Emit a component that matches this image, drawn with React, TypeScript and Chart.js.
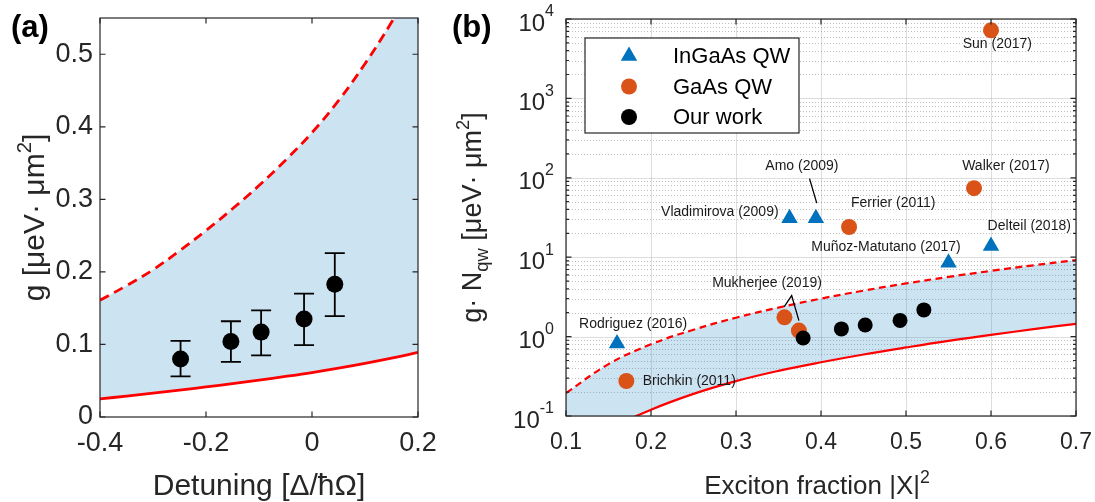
import React, { useEffect, useRef } from 'react';
import { Chart, registerables } from 'chart.js';

Chart.register(...registerables);

const FONT = '"Liberation Sans", Arial, Helvetica, sans-serif';
const INK = '#262626';
const RED = '#ff0000';
const SHADE = 'rgba(0, 114, 189, 0.2)';
const BLUE = '#0072bd';
const ORANGE = '#d95319';

// ---------------- Panel (a) data ----------------
const detuningGrid = [-0.4, -0.35, -0.3, -0.25, -0.2, -0.15, -0.1, -0.05, 0, 0.05, 0.1, 0.15, 0.2];
const gLowerA = [0.025, 0.0288, 0.0328, 0.037, 0.0414, 0.046, 0.0508, 0.0559, 0.0613, 0.0673, 0.0739, 0.0811, 0.089];
const gUpperA = [0.161, 0.181, 0.203, 0.229, 0.257, 0.287, 0.319, 0.354, 0.392, 0.436, 0.487, 0.544, 0.607];
const detuningPts = [-0.248, -0.153, -0.096, -0.015, 0.043];
const gPts = [0.08, 0.104, 0.117, 0.135, 0.183];
const gErrLo = [0.056, 0.076, 0.085, 0.099, 0.139];
const gErrHi = [0.105, 0.132, 0.147, 0.17, 0.226];
const xTicksA = [-0.4, -0.2, 0, 0.2];
const yTicksA = [0, 0.1, 0.2, 0.3, 0.4, 0.5];

// ---------------- Panel (b) data ----------------
const fractionGrid = [0.1, 0.15, 0.2, 0.25, 0.3, 0.35, 0.4, 0.45, 0.5, 0.55, 0.6, 0.65, 0.7];
const gnLowerB = [0.032, 0.068, 0.12, 0.19, 0.275, 0.37, 0.475, 0.595, 0.73, 0.885, 1.05, 1.24, 1.45];
const gnUpperB = [0.194, 0.45, 0.8, 1.22, 1.73, 2.32, 3.01, 3.79, 4.67, 5.65, 6.73, 7.91, 9.18];
const ingaasX = [0.16, 0.363, 0.394, 0.55, 0.6];
const ingaasY = [0.82, 31, 31, 8.5, 13.8];
const gaasX = [0.171, 0.357, 0.374, 0.433, 0.58, 0.6];
const gaasY = [0.276, 1.75, 1.19, 24, 74, 7200];
const ourX = [0.379, 0.424, 0.452, 0.493, 0.521];
const ourY = [0.96, 1.25, 1.4, 1.6, 2.17];
const xTicksB = [0.1, 0.2, 0.3, 0.4, 0.5, 0.6, 0.7];
const yTicksB = [0.1, 1, 10, 100, 1000, 10000];
const annotText = ['Sun (2017)', 'Walker (2017)', 'Amo (2009)', 'Ferrier (2011)', 'Vladimirova (2009)', 'Delteil (2018)', 'Muñoz-Matutano (2017)', 'Mukherjee (2019)', 'Rodriguez (2016)', 'Brichkin (2011)'];
const annotX = [0.6075, 0.6175, 0.3775, 0.485, 0.281, 0.645, 0.4765, 0.3365, 0.179, 0.245];
const annotY = [4770, 140, 140, 48.5, 37.4, 24.6, 13.4, 4.75, 1.42, 0.273];
const amoLeaderX = [0.3865, 0.395];
const amoLeaderY = [97.5, 48];
const mukLeaderX = [0.3568, 0.3655, 0.374];
const mukLeaderY = [2.39, 3.29, 1.59];

type Part = { t: string; k?: 'sup' | 'sub' };

function drawRich(ctx: CanvasRenderingContext2D, parts: Part[], cx: number, cy: number, size: number, rotate: boolean) {
  ctx.save();
  ctx.translate(cx, cy);
  if (rotate) ctx.rotate(-Math.PI / 2);
  const small = size * 0.68;
  const widths = parts.map((p) => {
    ctx.font = `${p.k ? small : size}px ${FONT}`;
    return ctx.measureText(p.t).width;
  });
  const total = widths.reduce((a, b) => a + b, 0);
  let x = -total / 2;
  ctx.textBaseline = 'alphabetic';
  ctx.textAlign = 'left';
  ctx.fillStyle = INK;
  const base = size * 0.36;
  parts.forEach((p, i) => {
    ctx.font = `${p.k ? small : size}px ${FONT}`;
    const dy = p.k === 'sup' ? -size * 0.42 : p.k === 'sub' ? size * 0.28 : 0;
    ctx.fillText(p.t, x, base + dy);
    x += widths[i];
  });
  ctx.restore();
}

function drawFrame(chart: any, yMinor: boolean) {
  const { ctx, chartArea: a, scales } = chart;
  const xs = scales.x;
  const ys = scales.y;
  ctx.save();
  ctx.strokeStyle = INK;
  ctx.lineWidth = 1.2;
  ctx.beginPath();
  const L = 5.5;
  for (const t of xs.ticks) {
    const px = xs.getPixelForValue(t.value);
    ctx.moveTo(px, a.bottom);
    ctx.lineTo(px, a.bottom - L);
    ctx.moveTo(px, a.top);
    ctx.lineTo(px, a.top + L);
  }
  for (const t of ys.ticks) {
    const py = ys.getPixelForValue(t.value);
    ctx.moveTo(a.left, py);
    ctx.lineTo(a.left + L, py);
    ctx.moveTo(a.right, py);
    ctx.lineTo(a.right - L, py);
  }
  if (yMinor) {
    for (let i = 0; i < ys.ticks.length - 1; i++) {
      const d = ys.ticks[i].value;
      for (let k = 2; k <= 9; k++) {
        const py = ys.getPixelForValue(k * d);
        ctx.moveTo(a.left, py);
        ctx.lineTo(a.left + 3, py);
        ctx.moveTo(a.right, py);
        ctx.lineTo(a.right - 3, py);
      }
    }
  }
  ctx.stroke();
  ctx.strokeRect(a.left, a.top, a.right - a.left, a.bottom - a.top);
  ctx.restore();
}

const fmt = (v: any) => String(Math.round(Number(v) * 10) / 10);

const panelAPlugin = {
  id: 'panelA',
  afterDatasetsDraw(chart: any) {
    const { ctx, scales } = chart;
    const xs = scales.x;
    const ys = scales.y;
    ctx.save();
    ctx.strokeStyle = '#000';
    ctx.lineWidth = 1.8;
    ctx.beginPath();
    detuningPts.forEach((x, i) => {
      const px = xs.getPixelForValue(x);
      const lo = ys.getPixelForValue(gErrLo[i]);
      const hi = ys.getPixelForValue(gErrHi[i]);
      ctx.moveTo(px, lo);
      ctx.lineTo(px, hi);
      ctx.moveTo(px - 10, lo);
      ctx.lineTo(px + 10, lo);
      ctx.moveTo(px - 10, hi);
      ctx.lineTo(px + 10, hi);
    });
    ctx.stroke();
    ctx.restore();
    drawFrame(chart, false);
  },
  afterDraw(chart: any) {
    const { ctx, chartArea: a } = chart;
    drawRich(ctx, [{ t: 'g [μeV· μm' }, { t: '2', k: 'sup' }, { t: ']' }], a.left - 67, (a.top + a.bottom) / 2, 30, true);
    drawRich(ctx, [{ t: 'Detuning [Δ/ħΩ]' }], (a.left + a.right) / 2, 484, 30, false);
    ctx.save();
    ctx.font = `bold 31px ${FONT}`;
    ctx.fillStyle = '#000';
    ctx.textBaseline = 'middle';
    ctx.textAlign = 'left';
    ctx.fillText('(a)', 11, 28);
    ctx.restore();
  },
};

const panelBPlugin = {
  id: 'panelB',
  beforeDraw(chart: any) {
    const { ctx, chartArea: a, scales } = chart;
    const xs = scales.x;
    const ys = scales.y;
    ctx.save();
    ctx.strokeStyle = 'rgba(0,0,0,0.25)';
    ctx.lineWidth = 1;
    ctx.setLineDash([1, 2]);
    ctx.beginPath();
    for (let i = 0; i < yTicksB.length - 1; i++) {
      for (let k = 2; k <= 9; k++) {
        const py = Math.round(ys.getPixelForValue(k * yTicksB[i])) + 0.5;
        ctx.moveTo(a.left, py);
        ctx.lineTo(a.right, py);
      }
    }
    ctx.stroke();
    ctx.setLineDash([]);
    ctx.strokeStyle = 'rgba(0,0,0,0.13)';
    ctx.beginPath();
    for (const v of yTicksB) {
      const py = Math.round(ys.getPixelForValue(v)) + 0.5;
      ctx.moveTo(a.left, py);
      ctx.lineTo(a.right, py);
    }
    for (const v of xTicksB) {
      const px = Math.round(xs.getPixelForValue(v)) + 0.5;
      ctx.moveTo(px, a.top);
      ctx.lineTo(px, a.bottom);
    }
    ctx.stroke();
    ctx.restore();
  },
  afterDatasetsDraw(chart: any) {
    const { ctx, scales } = chart;
    const xs = scales.x;
    const ys = scales.y;
    ctx.save();
    ctx.fillStyle = '#1a1a1a';
    ctx.font = `14px ${FONT}`;
    ctx.textAlign = 'center';
    ctx.textBaseline = 'middle';
    annotText.forEach((t, i) => {
      ctx.fillText(t, xs.getPixelForValue(annotX[i]), ys.getPixelForValue(annotY[i]));
    });
    ctx.strokeStyle = '#000';
    ctx.lineWidth = 1.3;
    const poly = (X: number[], Y: number[]) => {
      ctx.beginPath();
      X.forEach((x, i) => {
        const px = xs.getPixelForValue(x);
        const py = ys.getPixelForValue(Y[i]);
        if (i === 0) ctx.moveTo(px, py);
        else ctx.lineTo(px, py);
      });
      ctx.stroke();
    };
    poly(amoLeaderX, amoLeaderY);
    poly(mukLeaderX, mukLeaderY);
    ctx.restore();
    drawFrame(chart, true);
  },
  afterDraw(chart: any) {
    const { ctx, chartArea: a, scales } = chart;
    const ys = scales.y;
    ctx.save();
    ctx.fillStyle = INK;
    ctx.textBaseline = 'middle';
    ctx.textAlign = 'left';
    for (const v of yTicksB) {
      const e = String(Math.round(Math.log10(v)));
      const py = ys.getPixelForValue(v);
      ctx.font = `16px ${FONT}`;
      const we = ctx.measureText(e).width;
      ctx.font = `24px ${FONT}`;
      const wb = ctx.measureText('10').width;
      const right = a.left - 12;
      ctx.fillText('10', right - we - wb, py + 5);
      ctx.font = `16px ${FONT}`;
      ctx.fillText(e, right - we, py - 7);
    }
    ctx.restore();

    const lx = a.left + 19;
    const ly = a.top + 19;
    const lw = 214;
    const lh = 95;
    ctx.save();
    ctx.fillStyle = '#fff';
    ctx.fillRect(lx, ly, lw, lh);
    ctx.strokeStyle = INK;
    ctx.lineWidth = 1.2;
    ctx.strokeRect(lx, ly, lw, lh);
    const items = chart.data.datasets.filter((d: any) => d.showLine === false);
    items.forEach((d: any, i: number) => {
      const cy = ly + 18 + i * 30.5;
      const cx = lx + 44;
      ctx.fillStyle = d.pointBackgroundColor;
      ctx.beginPath();
      if (d.pointStyle === 'triangle') {
        const r = d.pointRadius;
        let rad = 0;
        for (let k = 0; k < 3; k++) {
          const px = cx + Math.sin(rad) * r;
          const py = cy - Math.cos(rad) * r;
          if (k === 0) ctx.moveTo(px, py);
          else ctx.lineTo(px, py);
          rad += (2 * Math.PI) / 3;
        }
        ctx.closePath();
      } else {
        ctx.arc(cx, cy, 8, 0, Math.PI * 2);
      }
      ctx.fill();
      ctx.fillStyle = '#000';
      ctx.font = `22px ${FONT}`;
      ctx.textBaseline = 'middle';
      ctx.textAlign = 'left';
      ctx.fillText(d.label, lx + 88, cy + 1);
    });
    ctx.restore();

    drawRich(ctx, [{ t: 'g· N' }, { t: 'qw', k: 'sub' }, { t: ' [μeV· μm' }, { t: '2', k: 'sup' }, { t: ']' }], a.left - 95, (a.top + a.bottom) / 2, 27, true);
    drawRich(ctx, [{ t: 'Exciton fraction |X|' }, { t: '2', k: 'sup' }], (a.left + a.right) / 2 - 4, 485, 26, false);
    ctx.save();
    ctx.font = `bold 31px ${FONT}`;
    ctx.fillStyle = '#000';
    ctx.textBaseline = 'middle';
    ctx.textAlign = 'left';
    ctx.fillText('(b)', 22, 28);
    ctx.restore();
  },
};

export default function App() {
  const refA = useRef<HTMLCanvasElement>(null);
  const refB = useRef<HTMLCanvasElement>(null);

  useEffect(() => {
    const chartA = new Chart(refA.current as HTMLCanvasElement, {
      type: 'line',
      data: {
        datasets: [
          {
            label: 'upper',
            data: detuningGrid.map((x, i) => ({ x, y: gUpperA[i] })),
            borderColor: RED,
            borderWidth: 2.8,
            borderDash: [10, 6],
            pointRadius: 0,
            fill: '+1',
            backgroundColor: SHADE,
            tension: 0.4,
            capBezierPoints: false,
            order: 2,
            clip: 0,
          },
          {
            label: 'lower',
            data: detuningGrid.map((x, i) => ({ x, y: gLowerA[i] })),
            borderColor: RED,
            borderWidth: 2.8,
            pointRadius: 0,
            fill: false,
            tension: 0.4,
            capBezierPoints: false,
            order: 1,
            clip: 0,
          },
          {
            label: 'data',
            data: detuningPts.map((x, i) => ({ x, y: gPts[i] })),
            showLine: false,
            pointRadius: 8.5,
            pointBorderWidth: 0,
            pointBackgroundColor: '#000',
            pointBorderColor: '#000',
            order: 0,
          },
        ],
      } as any,
      options: {
        animation: false,
        responsive: false,
        maintainAspectRatio: false,
        events: [],
        layout: { padding: { left: 0, top: 18, right: 42, bottom: 0 } },
        plugins: {
          legend: { display: false },
          tooltip: { enabled: false },
          filler: { drawTime: 'beforeDatasetsDraw' },
        } as any,
        scales: {
          x: {
            type: 'linear',
            min: -0.4,
            max: 0.2,
            grid: { display: false, drawTicks: false },
            border: { display: false },
            afterBuildTicks: (s: any) => {
              s.ticks = xTicksA.map((value) => ({ value }));
            },
            afterFit: (s: any) => {
              s.height = 85;
              s.paddingLeft = 0;
              s.paddingRight = 0;
            },
            ticks: {
              font: { family: FONT, size: 27 },
              color: INK,
              padding: 10,
              autoSkip: false,
              maxRotation: 0,
              callback: fmt,
            },
          },
          y: {
            type: 'linear',
            min: 0,
            max: 0.55,
            grid: { display: false, drawTicks: false },
            border: { display: false },
            afterBuildTicks: (s: any) => {
              s.ticks = yTicksA.map((value) => ({ value }));
            },
            afterFit: (s: any) => {
              s.width = 100;
              s.paddingTop = 0;
              s.paddingBottom = 0;
            },
            ticks: {
              font: { family: FONT, size: 27 },
              color: INK,
              padding: 7,
              autoSkip: false,
              callback: fmt,
            },
          },
        } as any,
      },
      plugins: [panelAPlugin],
    } as any);

    const chartB = new Chart(refB.current as HTMLCanvasElement, {
      type: 'line',
      data: {
        datasets: [
          {
            label: 'upper',
            data: fractionGrid.map((x, i) => ({ x, y: gnUpperB[i] })),
            borderColor: RED,
            borderWidth: 2.2,
            borderDash: [7, 4.5],
            pointRadius: 0,
            fill: '+1',
            backgroundColor: SHADE,
            tension: 0.4,
            capBezierPoints: false,
            order: 5,
            clip: 0,
          },
          {
            label: 'lower',
            data: fractionGrid.map((x, i) => ({ x, y: gnLowerB[i] })),
            borderColor: RED,
            borderWidth: 2.2,
            pointRadius: 0,
            fill: false,
            tension: 0.4,
            capBezierPoints: false,
            order: 4,
            clip: 0,
          },
          {
            label: 'InGaAs QW',
            data: ingaasX.map((x, i) => ({ x, y: ingaasY[i] })),
            showLine: false,
            pointStyle: 'triangle',
            pointRadius: 9.5,
            pointBorderWidth: 0,
            pointBackgroundColor: BLUE,
            pointBorderColor: BLUE,
            order: 2,
          },
          {
            label: 'GaAs QW',
            data: gaasX.map((x, i) => ({ x, y: gaasY[i] })),
            showLine: false,
            pointStyle: 'circle',
            pointRadius: 8,
            pointBorderWidth: 0,
            pointBackgroundColor: ORANGE,
            pointBorderColor: ORANGE,
            order: 1,
          },
          {
            label: 'Our work',
            data: ourX.map((x, i) => ({ x, y: ourY[i] })),
            showLine: false,
            pointStyle: 'circle',
            pointRadius: 7.5,
            pointBorderWidth: 0,
            pointBackgroundColor: '#000',
            pointBorderColor: '#000',
            order: 0,
          },
        ],
      } as any,
      options: {
        animation: false,
        responsive: false,
        maintainAspectRatio: false,
        events: [],
        layout: { padding: { left: 0, top: 19, right: 19, bottom: 0 } },
        plugins: {
          legend: { display: false },
          tooltip: { enabled: false },
          filler: { drawTime: 'beforeDatasetsDraw' },
        } as any,
        scales: {
          x: {
            type: 'linear',
            min: 0.1,
            max: 0.7,
            grid: { display: false, drawTicks: false },
            border: { display: false },
            afterBuildTicks: (s: any) => {
              s.ticks = xTicksB.map((value) => ({ value }));
            },
            afterFit: (s: any) => {
              s.height = 86;
              s.paddingLeft = 0;
              s.paddingRight = 0;
            },
            ticks: {
              font: { family: FONT, size: 23 },
              color: INK,
              padding: 13,
              autoSkip: false,
              maxRotation: 0,
              callback: (v: any) => Number(v).toFixed(1),
            },
          },
          y: {
            type: 'logarithmic',
            min: 0.1,
            max: 10000,
            grid: { display: false, drawTicks: false },
            border: { display: false },
            afterBuildTicks: (s: any) => {
              s.ticks = yTicksB.map((value) => ({ value }));
            },
            afterFit: (s: any) => {
              s.width = 136;
              s.paddingTop = 0;
              s.paddingBottom = 0;
            },
            ticks: { display: false },
          },
        } as any,
      },
      plugins: [panelBPlugin],
    } as any);

    return () => {
      chartA.destroy();
      chartB.destroy();
    };
  }, []);

  return (
    <div style={{ position: 'fixed', left: 0, top: 0, width: 1095, height: 502, background: '#fff', overflow: 'hidden' }}>
      <canvas ref={refA} width={460} height={502} style={{ position: 'absolute', left: 0, top: 0, width: 460, height: 502 }} />
      <canvas ref={refB} width={665} height={502} style={{ position: 'absolute', left: 430, top: 0, width: 665, height: 502 }} />
    </div>
  );
}
